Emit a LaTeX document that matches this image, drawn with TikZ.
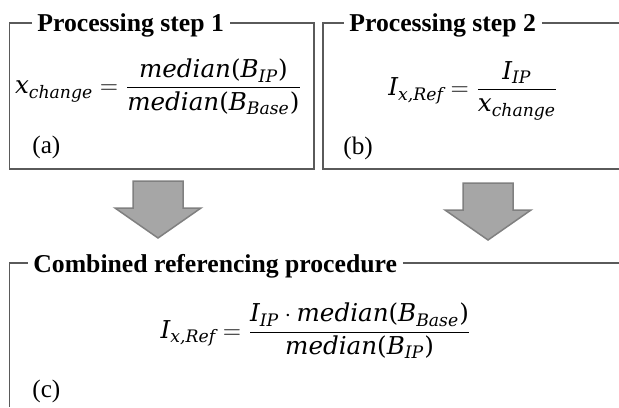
\documentclass[tikz,border=0pt]{standalone}
\usepackage{amsmath}
\usepackage[no-math]{fontspec}
\setmainfont{Liberation Serif}
\newfontfamily\eqfont{DejaVu Serif}
\usetikzlibrary{positioning}

\definecolor{framegray}{HTML}{5A5A5A}
\definecolor{arrowfill}{HTML}{A6A6A6}
\definecolor{arrowedge}{HTML}{808080}

% italic variables and upright delimiters for the equations
\newcommand{\eqv}[1]{\text{\eqfont\itshape #1}}
\newcommand{\eqp}[1]{\text{\eqfont #1}}

\tikzset{
	frame/.style={draw=framegray, line width=0.75pt},
	steptitle/.style={font=\fontsize{12.85}{15}\selectfont\bfseries, inner xsep=2.75pt, inner ysep=0pt},
	formula/.style={font=\fontsize{12.3}{15}\selectfont, inner sep=0pt},
	tag/.style={font=\fontsize{12.6}{15}\selectfont, inner sep=0pt},
	bigarrow/.style={fill=arrowfill, draw=arrowedge, line width=0.75pt, line join=miter},
	blockarrow/.pic={
		\draw [bigarrow] (-25,0) -- (25,0) -- (25,27) -- (43,27) -- (0,57) -- (-43,27) -- (-25,27) -- cycle;
	}
}

\begin{document}
\begin{tikzpicture}[x=0.5pt, y=-0.5pt]

	\useasboundingbox [fill=white] (0,0) rectangle (619,407);

	% corners of the three frames
	\coordinate (a-nw) at (9.5,23);
	\coordinate (a-se) at (314,169);
	\coordinate (b-nw) at (323,23);
	\coordinate (b-se) at (619,169);
	\coordinate (c-nw) at (9.5,263);
	\coordinate (c-se) at (619,407);

	% processing step 1
	\node [steptitle, anchor=base west] (t1) at (31.5,32) {Processing step 1};
	\draw [frame] (t1.west |- a-nw) -- (a-nw) -- (a-nw |- a-se) -- (a-se) -- (a-se |- a-nw) -- (t1.east |- a-nw);
	\node [formula] (f1) at (158.5,87)
		{$\eqv{x}_{\eqv{change}} = \dfrac{\eqv{median}\eqp{(}\eqv{B}_{\eqv{IP}}\eqp{)}}{\eqv{median}\eqp{(}\eqv{B}_{\eqv{Base}}\eqp{)}}$};
	\node [tag, anchor=west] (la) at (32,147) {(a)};

	% processing step 2
	\node [steptitle, anchor=base west] (t2) at (343.5,32) {Processing step 2};
	\draw [frame] (t2.west |- b-nw) -- (b-nw) -- (b-nw |- b-se) -- (b-se);
	\draw [frame] (t2.east |- b-nw) -- (b-se |- b-nw);
	\node [formula] (f2) at (473.5,91)
		{$\eqv{I}_{\eqv{x,Ref}} = \dfrac{\eqv{I}_{\eqv{IP}}}{\eqv{x}_{\eqv{change}}}$};
	\node [tag, anchor=west] (lb) at (343,148) {(b)};

	% both steps feed the combined procedure
	\pic at (158,181) {blockarrow};
	\pic at (488,183) {blockarrow};

	% combined referencing procedure
	\node [steptitle, anchor=base west] (t3) at (27.5,272) {Combined referencing procedure};
	\draw [frame] (t3.west |- c-nw) -- (c-nw) -- (c-nw |- c-se);
	\draw [frame] (t3.east |- c-nw) -- (c-se |- c-nw);
	\node [formula] (f3) at (316,331)
		{$\eqv{I}_{\eqv{x,Ref}} = \dfrac{\eqv{I}_{\eqv{IP}}\cdot\eqv{median}\eqp{(}\eqv{B}_{\eqv{Base}}\eqp{)}}{\eqv{median}\eqp{(}\eqv{B}_{\eqv{IP}}\eqp{)}}$};
	\node [tag, anchor=west] (lc) at (32,391) {(c)};

\end{tikzpicture}
\end{document}
